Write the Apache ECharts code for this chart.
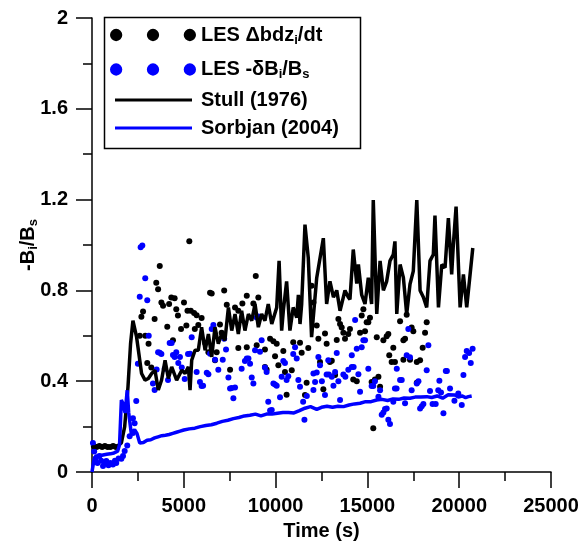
<!DOCTYPE html>
<html>
<head>
<meta charset="utf-8">
<script src="https://cdn.jsdelivr.net/npm/echarts@6/dist/echarts.min.js"></script>
<style>
  html, body { margin: 0; padding: 0; background: #fff; }
  #chart { width: 582px; height: 546px; }
</style>
</head>
<body>
<div id="chart"></div>
<script>
// Stull (1976) line
const stullT = [0, 200, 400, 600, 800, 1000, 1200, 1400, 1600, 1780, 1960, 2100, 2230, 2430, 2700, 2890, 3070, 3250, 3430, 3610, 3790, 3980, 4160, 4340, 4610, 4890, 5070, 5250, 5340, 5430, 5610, 5790, 5970, 6160, 6340, 6520, 6700, 6880, 7060, 7240, 7430, 7610, 7790, 7970, 8150, 8330, 8520, 8700, 8880, 9060, 9240, 9420, 9600, 9790, 10060, 10190, 10330, 10420, 10600, 10780, 10960, 11150, 11240, 11330, 11420, 11600, 11780, 11960, 12240, 12600, 12780, 12960, 13150, 13330, 13510, 13780, 13960, 14050, 14230, 14420, 14510, 14690, 14870, 15050, 15230, 15320, 15510, 15690, 15870, 16050, 16230, 16410, 16500, 16600, 16780, 16960, 17140, 17320, 17500, 17690, 17870, 18050, 18230, 18410, 18590, 18680, 18870, 19050, 19230, 19410, 19590, 19680, 19830, 20050, 20230, 20410, 20740];
const stullY = [0.11, 0.11, 0.115, 0.11, 0.115, 0.11, 0.11, 0.115, 0.128, 0.2, 0.375, 0.565, 0.667, 0.594, 0.434, 0.405, 0.412, 0.434, 0.448, 0.361, 0.405, 0.492, 0.412, 0.463, 0.405, 0.448, 0.434, 0.463, 0.361, 0.492, 0.536, 0.536, 0.638, 0.536, 0.608, 0.507, 0.638, 0.565, 0.608, 0.58, 0.725, 0.623, 0.696, 0.608, 0.71, 0.623, 0.696, 0.667, 0.74, 0.638, 0.696, 0.667, 0.74, 0.652, 0.725, 0.93, 0.623, 0.71, 0.84, 0.623, 0.725, 0.68, 0.78, 0.652, 0.74, 1.09, 0.943, 0.594, 0.856, 1.03, 0.74, 0.84, 0.77, 0.8, 0.71, 0.8, 0.77, 0.76, 0.98, 0.83, 0.914, 0.78, 0.74, 0.856, 0.74, 1.198, 0.696, 0.93, 0.8, 0.84, 0.93, 0.958, 1.016, 0.696, 0.914, 0.856, 0.696, 0.827, 0.885, 1.198, 0.8, 0.77, 0.725, 0.93, 0.958, 1.13, 0.725, 0.914, 0.9, 1.118, 0.87, 1.0, 1.169, 0.725, 0.87, 0.725, 0.987];

// Sorbjan (2004) line
const sorbjanT = [0, 100, 200, 400, 600, 800, 1000, 1200, 1400, 1500, 1600, 1700, 1800, 1920, 2000, 2140, 2320, 2450, 2600, 2800, 3000, 3200, 3410, 3600, 3800, 4000, 4200, 4400, 4600, 4800, 5000, 5300, 5600, 5900, 6200, 6500, 6800, 7100, 7400, 7700, 8000, 8300, 8600, 8900, 9200, 9500, 9800, 10100, 10400, 10700, 11000, 11300, 11600, 11900, 12240, 12500, 12800, 13100, 13400, 13700, 14000, 14300, 14600, 14900, 15200, 15500, 15800, 16100, 16400, 16700, 17000, 17320, 17600, 17900, 18230, 18500, 18800, 19100, 19400, 19770, 19950, 20150, 20350, 20500, 20680];
const sorbjanY = [0.0, 0.05, 0.07, 0.072, 0.075, 0.078, 0.08, 0.084, 0.092, 0.12, 0.317, 0.3, 0.26, 0.36, 0.26, 0.17, 0.186, 0.17, 0.128, 0.13, 0.14, 0.142, 0.15, 0.155, 0.16, 0.162, 0.165, 0.17, 0.175, 0.18, 0.185, 0.19, 0.193, 0.2, 0.205, 0.208, 0.215, 0.223, 0.228, 0.235, 0.24, 0.247, 0.25, 0.255, 0.247, 0.255, 0.255, 0.259, 0.262, 0.262, 0.26, 0.27, 0.281, 0.288, 0.276, 0.285, 0.29, 0.285, 0.29, 0.288, 0.295, 0.3, 0.303, 0.31, 0.31, 0.317, 0.32, 0.315, 0.322, 0.32, 0.326, 0.325, 0.33, 0.33, 0.332, 0.328, 0.335, 0.325, 0.34, 0.339, 0.33, 0.335, 0.328, 0.332, 0.335];

// LES dots: Δbdz_i/dt (black)
const lesDbT = [100, 250, 400, 550, 700, 850, 1000, 1150, 1300, 2600, 2690, 2780, 2900, 3010, 3080, 3230, 3410, 3500, 3600, 3690, 3780, 3870, 4100, 4200, 4320, 4410, 4500, 4590, 4680, 4850, 5010, 5140, 5200, 5300, 5380, 5560, 5600, 5700, 5790, 5970, 6160, 6340, 6430, 6520, 6700, 6790, 6970, 7060, 7200, 7340, 7520, 7790, 7970, 7970, 8190, 8430, 8430, 8790, 8920, 8970, 9060, 9420, 9420, 9510, 9700, 9880, 9970, 10060, 10150, 10420, 10510, 10600, 10880, 10960, 11330, 11420, 11600, 11690, 11780, 11960, 12060, 12240, 12330, 12420, 12600, 12690, 12780, 12960, 13060, 13240, 13330, 13420, 13510, 13600, 13690, 13780, 13960, 14050, 14230, 14420, 14600, 14690, 14780, 14870, 14960, 15050, 15140, 15230, 15320, 15410, 15510, 15600, 15690, 15870, 16050, 16140, 16190, 16320, 16410, 16500, 16780, 16960, 16960, 17050, 17140, 17320, 17410, 17500, 17690, 17690, 17870, 18010, 18140, 18230];
const lesDbY = [0.115, 0.11, 0.115, 0.11, 0.115, 0.11, 0.11, 0.115, 0.11, 0.6, 0.684, 0.707, 0.6, 0.48, 0.565, 0.46, 0.674, 0.834, 0.805, 0.907, 0.747, 0.732, 0.64, 0.74, 0.769, 0.58, 0.765, 0.717, 0.689, 0.63, 0.747, 0.645, 0.71, 1.016, 0.71, 0.7, 0.63, 0.69, 0.648, 0.678, 0.568, 0.528, 0.79, 0.786, 0.492, 0.528, 0.65, 0.613, 0.8, 0.737, 0.45, 0.725, 0.71, 0.546, 0.742, 0.776, 0.55, 0.742, 0.863, 0.558, 0.769, 0.54, 0.463, 0.451, 0.587, 0.576, 0.51, 0.565, 0.47, 0.533, 0.441, 0.34, 0.448, 0.572, 0.569, 0.525, 0.339, 0.393, 0.546, 0.82, 0.747, 0.645, 0.587, 0.485, 0.364, 0.61, 0.565, 0.485, 0.49, 0.427, 0.582, 0.674, 0.652, 0.637, 0.613, 0.587, 0.608, 0.63, 0.407, 0.4, 0.613, 0.689, 0.717, 0.62, 0.66, 0.66, 0.68, 0.397, 0.193, 0.407, 0.594, 0.42, 0.376, 0.58, 0.598, 0.608, 0.514, 0.485, 0.547, 0.485, 0.664, 0.495, 0.58, 0.587, 0.693, 0.495, 0.637, 0.62, 0.393, 0.485, 0.492, 0.547, 0.613, 0.66];

// LES dots: -δB_i/B_s (blue)
const lesBT = [50, 120, 200, 300, 400, 500, 600, 700, 780, 900, 1000, 1140, 1250, 1320, 1450, 1600, 1690, 1780, 1920, 2050, 2230, 2320, 2230, 2410, 2500, 2600, 2650, 2740, 2900, 3010, 3090, 3320, 3410, 3520, 3600, 3690, 3780, 3960, 4140, 4230, 4340, 4410, 4500, 4590, 4700, 4790, 4890, 5050, 5230, 5340, 5430, 5700, 5880, 5970, 6050, 6340, 6250, 6430, 6520, 6610, 6700, 6880, 7120, 7200, 7300, 7430, 7520, 7610, 7700, 7790, 8150, 8330, 8430, 8520, 8610, 8700, 8790, 8880, 8970, 9060, 9150, 9240, 9420, 9510, 9600, 9700, 9790, 9880, 9970, 10060, 10240, 10330, 10420, 10510, 10600, 10690, 11060, 10960, 11150, 11330, 11240, 11500, 11570, 11700, 12060, 12060, 12150, 12240, 12330, 12420, 12520, 12690, 12780, 12870, 12900, 13060, 13150, 13240, 13330, 13420, 13510, 13690, 13800, 13960, 14150, 14150, 14250, 14330, 14420, 14510, 14600, 14690, 14780, 14870, 15050, 15230, 15320, 15410, 15600, 15690, 15780, 15870, 15960, 16050, 16140, 16230, 16410, 16500, 16590, 16600, 16780, 16870, 17050, 17140, 17230, 17320, 17410, 17690, 17780, 17870, 17960, 18050, 18230, 18320, 18410, 18550, 18720, 18860, 18920, 19010, 19140, 19270, 19330, 19500, 19740, 19950, 20140, 20230, 20320, 20410, 20540, 20630, 20730];
const lesBY = [0.128, 0.09, 0.06, 0.04, 0.07, 0.05, 0.026, 0.04, 0.048, 0.03, 0.04, 0.033, 0.05, 0.04, 0.06, 0.058, 0.07, 0.092, 0.117, 0.157, 0.172, 0.215, 0.237, 0.313, 0.477, 0.772, 0.99, 0.998, 0.853, 0.757, 0.6, 0.39, 0.361, 0.451, 0.528, 0.525, 0.52, 0.455, 0.405, 0.568, 0.568, 0.515, 0.507, 0.528, 0.48, 0.507, 0.46, 0.41, 0.52, 0.521, 0.594, 0.441, 0.397, 0.379, 0.38, 0.431, 0.437, 0.521, 0.63, 0.648, 0.495, 0.45, 0.495, 0.587, 0.54, 0.416, 0.368, 0.37, 0.325, 0.372, 0.455, 0.489, 0.5, 0.5, 0.477, 0.416, 0.39, 0.536, 0.681, 0.685, 0.53, 0.58, 0.46, 0.441, 0.31, 0.271, 0.273, 0.39, 0.386, 0.38, 0.329, 0.42, 0.489, 0.48, 0.405, 0.422, 0.55, 0.52, 0.5, 0.376, 0.405, 0.31, 0.23, 0.335, 0.434, 0.361, 0.397, 0.438, 0.507, 0.47, 0.4, 0.339, 0.43, 0.492, 0.43, 0.42, 0.38, 0.44, 0.524, 0.4, 0.317, 0.43, 0.42, 0.45, 0.514, 0.463, 0.463, 0.67, 0.543, 0.431, 0.354, 0.55, 0.58, 0.58, 0.455, 0.379, 0.379, 0.4, 0.332, 0.36, 0.252, 0.262, 0.277, 0.28, 0.23, 0.212, 0.31, 0.368, 0.368, 0.455, 0.405, 0.405, 0.303, 0.514, 0.63, 0.506, 0.36, 0.39, 0.4, 0.28, 0.29, 0.3, 0.448, 0.558, 0.357, 0.3, 0.3, 0.36, 0.402, 0.35, 0.259, 0.445, 0.445, 0.368, 0.314, 0.346, 0.295, 0.427, 0.507, 0.533, 0.524, 0.48, 0.543];

const xTicks = [0, 25000, 5000];
const yTicks = [0, 2, 0.4];

const names = ['LES \u0394bdzi/dt', 'LES -\u03b4Bi/Bs', 'Stull (1976)', 'Sorbjan (2004)'];
const BLUE = '#0000ff';
const FONT = 'Liberation Sans';

const pair = (t, v) => t.map((x, i) => [x, v[i]]);

// rich text for subscripts
const rich = {
  b: { fontSize: 20, fontWeight: 'bold', fontFamily: FONT, color: '#000' },
  s: { fontSize: 13, fontWeight: 'bold', fontFamily: FONT, color: '#000', padding: [10, 0, 0, 0] }
};
const legendText = {
  [names[0]]: '{b|LES \u0394bdz}{s|i}{b|/dt}',
  [names[1]]: '{b|LES -\u03b4B}{s|i}{b|/B}{s|s}',
  [names[2]]: '{b|Stull (1976)}',
  [names[3]]: '{b|Sorbjan (2004)}'
};

// legend icons
const dotsIcon = 'path://M1,7 A6,6 0 1,0 13,7 A6,6 0 1,0 1,7 Z M37,7 A6,6 0 1,0 49,7 A6,6 0 1,0 37,7 Z M73,7 A6,6 0 1,0 85,7 A6,6 0 1,0 73,7 Z';
const barIcon = 'path://M0,0 L77,0 L77,3 L0,3 Z';

const axisCommon = {
  axisLine: { lineStyle: { color: '#000', width: 1.5 } },
  axisTick: { length: 16, lineStyle: { color: '#000', width: 1.5 } },
  minorTick: { show: true, splitNumber: 2, length: 9, lineStyle: { color: '#000', width: 1.5 } },
  splitLine: { show: false },
  axisLabel: { fontSize: 20, fontWeight: 'bold', fontFamily: FONT, color: '#000', margin: 24, formatter: v => String(v) },
  nameLocation: 'middle',
  nameMoveOverlap: false,
  nameTextStyle: { rich }
};

const chart = echarts.init(document.getElementById('chart'));
chart.setOption({
  animation: false,
  backgroundColor: '#fff',
  grid: { left: 92, right: 31, top: 18, bottom: 70 },
  xAxis: {
    type: 'value',
    min: xTicks[0], max: xTicks[1], interval: xTicks[2],
    ...axisCommon,
    name: '{b|Time (s)}',
    nameGap: 49
  },
  yAxis: {
    type: 'value',
    min: yTicks[0], max: yTicks[1], interval: yTicks[2],
    ...axisCommon,
    name: '{b|-B}{s|i}{b|/B}{s|s}',
    nameGap: 52
  },
  legend: [
    {
      orient: 'vertical', left: 110, top: 25, padding: 0,
      itemWidth: 86, itemHeight: 14, itemGap: 13,
      icon: dotsIcon,
      data: [names[0], names[1]],
      formatter: n => legendText[n],
      textStyle: { rich }
    },
    {
      orient: 'vertical', left: 115, top: 90, padding: 0,
      itemWidth: 77, itemHeight: 3, itemGap: 8,
      icon: barIcon,
      data: [names[2], names[3]],
      formatter: n => legendText[n],
      textStyle: { rich, padding: [0, 0, 0, 4] }
    }
  ],
  graphic: [{
    type: 'rect', left: 102, top: 15, z: 100,
    shape: { width: 256, height: 131 },
    style: { fill: null, stroke: '#000', lineWidth: 1.5 }
  }],
  series: [
    {
      name: names[0], type: 'scatter', data: pair(lesDbT, lesDbY),
      symbolSize: 6, itemStyle: { color: '#000', opacity: 1 }
    },
    {
      name: names[1], type: 'scatter', data: pair(lesBT, lesBY),
      symbolSize: 6, itemStyle: { color: BLUE, opacity: 1 }
    },
    {
      name: names[2], type: 'line', data: pair(stullT, stullY),
      showSymbol: false, symbol: 'none',
      lineStyle: { color: '#000', width: 3.5 }, itemStyle: { color: '#000' }
    },
    {
      name: names[3], type: 'line', data: pair(sorbjanT, sorbjanY),
      showSymbol: false, symbol: 'none',
      lineStyle: { color: BLUE, width: 3.5 }, itemStyle: { color: BLUE }
    }
  ]
});
</script>
</body>
</html>
